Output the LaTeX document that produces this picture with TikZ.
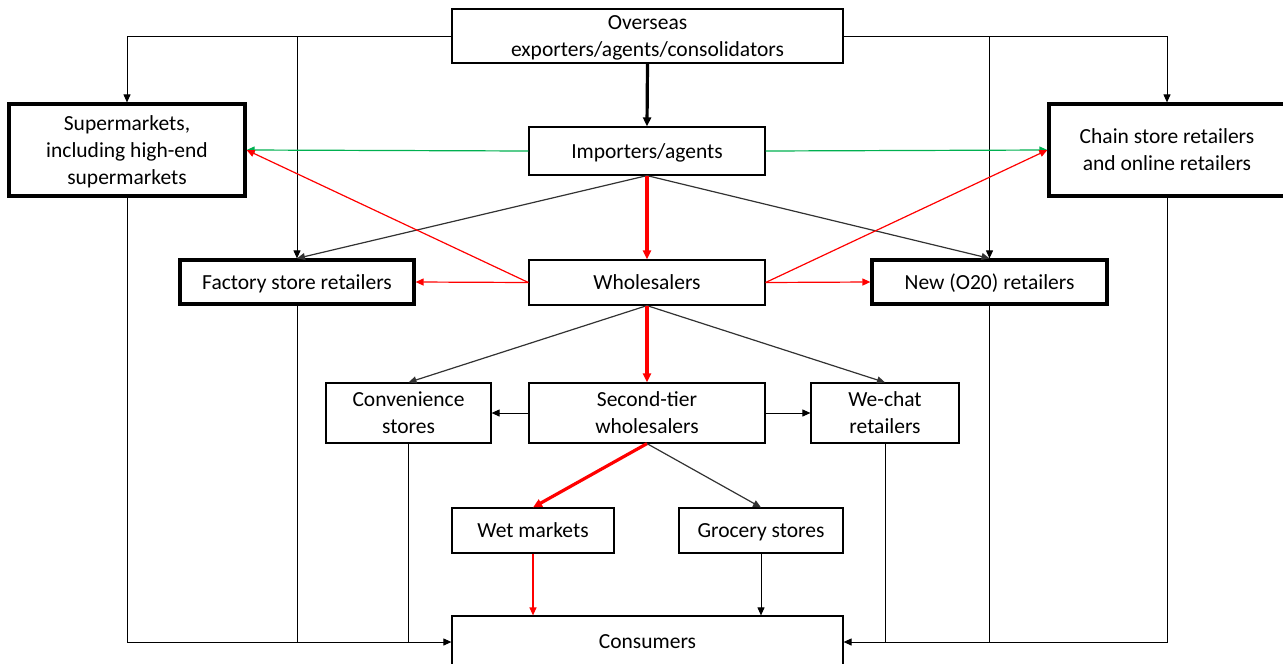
\documentclass[tikz,border=0pt]{standalone}
\usepackage{fontspec}
\setmainfont{Carlito}
\usetikzlibrary{arrows.meta,calc}
\definecolor{gr}{RGB}{0,176,80}
\definecolor{dk}{RGB}{50,50,50}
\tikzset{
  box/.style={draw=black, line width=1.2pt, fill=white, align=center, inner sep=0pt,
    text depth=0pt, font=\fontsize{21.5}{27}\selectfont},
  thickbox/.style={box, line width=3.2pt},
  tip/.style={-{Triangle[length=8pt,width=7pt]}},
  thin/.style={tip, line width=1pt, draw=black},
  diag/.style={tip, line width=1.2pt, draw=dk},
  bold/.style={line width=3.2pt, draw=black, -{Triangle[length=9pt,width=8pt]}},
  redthick/.style={line width=3.2pt, draw=red, -{Triangle[length=9pt,width=8pt]}},
  redthin/.style={tip, line width=1.2pt, draw=red},
  greenl/.style={tip, line width=1.2pt, draw=gr},
  plain/.style={line width=1pt, draw=black},
}
\begin{document}
\begin{tikzpicture}[x=1pt,y=-1pt]
\useasboundingbox (0,0) rectangle (1283,664);
\node[box, minimum width=391pt, minimum height=54pt] (ov) at (647.5,36) {Overseas\\exporters/agents/consolidators};
\node[box, minimum width=236pt, minimum height=48pt] (imp) at (647,151) {Importers/agents};
\node[thickbox, minimum width=236pt, minimum height=92pt] (sup) at (127,150) {Supermarkets,\\including high-end\\supermarkets};
\node[thickbox, minimum width=236pt, minimum height=92pt] (chain) at (1167,150) {Chain store retailers\\and online retailers};
\node[thickbox, minimum width=234pt, minimum height=44pt] (fac) at (297,282) {Factory store retailers};
\node[box, minimum width=236pt, minimum height=45pt] (whl) at (647,282.5) {Wholesalers};
\node[thickbox, minimum width=235pt, minimum height=44pt] (new) at (989.5,282) {New (O20) retailers};
\node[box, minimum width=165pt, minimum height=60pt] (conv) at (408.5,413) {Convenience\\stores};
\node[box, minimum width=236pt, minimum height=60pt] (sec) at (647,413) {Second-tier\\wholesalers};
\node[box, minimum width=148pt, minimum height=60pt] (wec) at (885,413) {We-chat\\retailers};
\node[box, minimum width=162pt, minimum height=45pt] (wet) at (533,530.5) {Wet markets};
\node[box, minimum width=164pt, minimum height=45pt] (gro) at (761,530.5) {Grocery stores};
\node[box, minimum width=391pt, minimum height=52pt] (con) at (647.5,642) {Consumers};

% from overseas
\draw[thin] (ov.west) -| (sup.north);
\draw[thin] (ov.west -| fac.north) -- (fac.north);
\draw[thin] (ov.east) -| (chain.north);
\draw[thin] (ov.east -| new.north) -- (new.north);
\draw[bold] (ov.south) -- (imp.north);
% from importers
\draw[greenl] (imp.west) -- (sup.east);
\draw[greenl] (imp.east) -- (chain.west);
\draw[diag] (imp.south) -- (fac.north);
\draw[diag] (imp.south) -- (new.north);
\draw[redthick] (imp.south) -- (whl.north);
% from wholesalers
\draw[redthin] (whl.west) -- (fac.east);
\draw[redthin] (whl.west) -- (sup.east);
\draw[redthin] (whl.east) -- (new.west);
\draw[redthin] (whl.east) -- (chain.west);
\draw[diag] (whl.south) -- (conv.north);
\draw[diag] (whl.south) -- (wec.north);
\draw[redthick] (whl.south) -- (sec.north);
% from second tier
\draw[thin] (sec.west) -- (conv.east);
\draw[thin] (sec.east) -- (wec.west);
\draw[redthick] (sec.south) -- (wet.north);
\draw[diag] (sec.south) -- (gro.north);
% to consumers
\draw[redthin] (wet.south) -- (wet.south |- con.north);
\draw[thin] (gro.south) -- (gro.south |- con.north);
\coordinate (cl) at (con.west);
\coordinate (cr) at (con.east);
\draw[thin] (sup.south) |- (cl);
\draw[plain] (fac.south) -- (fac.south |- cl);
\draw[plain] (conv.south) -- (conv.south |- cl);
\draw[thin] (chain.south) |- (cr);
\draw[plain] (new.south) -- (new.south |- cr);
\draw[plain] (wec.south) -- (wec.south |- cr);
\end{tikzpicture}
\end{document}
